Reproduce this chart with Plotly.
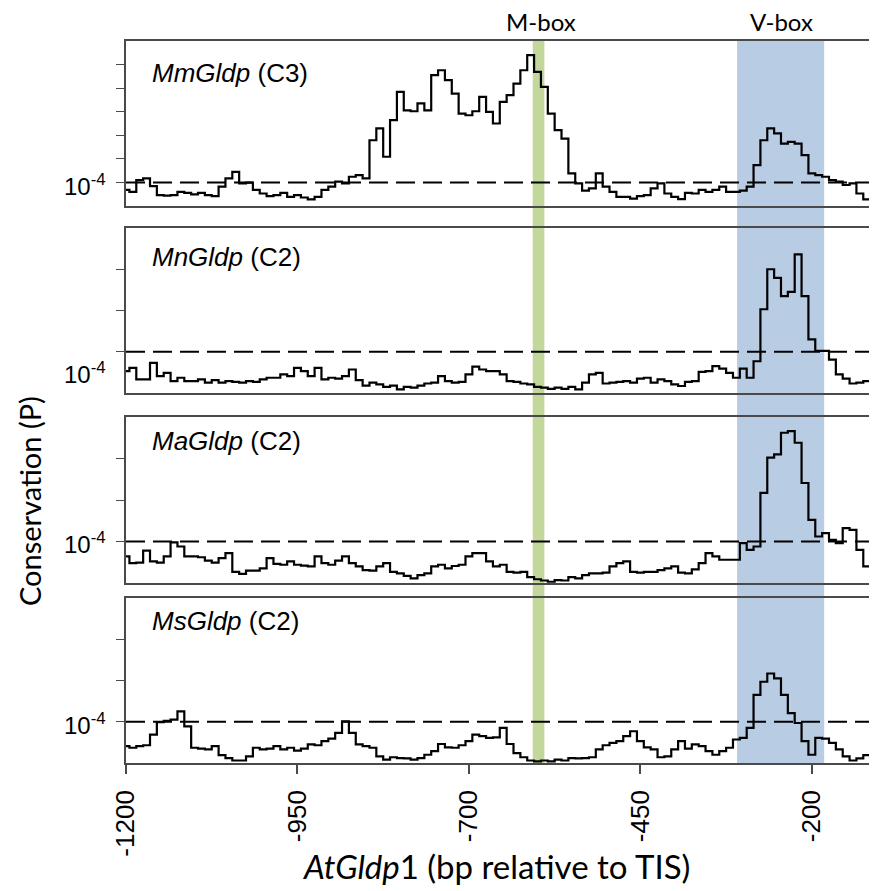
import plotly.graph_objects as go

# positions along AtGldp1 promoter (bp relative to TIS), 10-bp windows
positions = list(range(-1200, -99, 10))

# log10 of conservation P-value
mm_log10p = [
    -4.32, -4.40, -3.90, -3.83, -4.16, -4.54, -4.56, -4.54, -4.40, -4.44,
    -4.51, -4.44, -4.54, -4.58, -4.18, -3.83, -3.55, -4.04, -4.01, -4.32,
    -4.47, -4.58, -4.54, -4.44, -4.61, -4.54, -4.64, -4.72, -4.61, -4.32,
    -4.18, -3.97, -4.04, -3.76, -3.69, -3.83, -2.21, -1.71, -2.91, -1.36,
    -0.16, -0.94, -0.98, -0.65, -0.94, 0.55, 0.76, 0.34, -0.23, -1.08,
    -1.15, -0.98, -0.37, -1.01, -1.50, -0.58, -0.30, 0.19, 0.76, 1.40,
    0.69, 0.05, -1.08, -1.78, -2.14, -3.62, -4.04, -4.35, -4.25, -3.62,
    -4.18, -4.40, -4.61, -4.61, -4.69, -4.58, -4.54, -4.25, -4.04, -4.47,
    -4.61, -4.71, -4.44, -4.47, -4.32, -4.40, -4.32, -4.18, -4.40, -4.40,
    -4.35, -4.18, -3.27, -2.21, -1.71, -1.92, -2.35, -2.28, -2.35, -2.84,
    -3.62, -3.69, -3.76, -3.90, -3.97, -4.11, -4.04, -4.47, -4.72, -4.64, -4.61,
]
mn_log10p = [
    -4.47, -4.39, -4.67, -4.67, -4.27, -4.59, -4.51, -4.71, -4.63, -4.71,
    -4.71, -4.67, -4.75, -4.69, -4.75, -4.71, -4.73, -4.75, -4.71, -4.73,
    -4.67, -4.63, -4.63, -4.55, -4.59, -4.39, -4.47, -4.59, -4.39, -4.67,
    -4.63, -4.65, -4.59, -4.43, -4.69, -4.82, -4.75, -4.79, -4.85, -4.82,
    -4.91, -4.85, -4.87, -4.82, -4.77, -4.75, -4.59, -4.71, -4.75, -4.73,
    -4.55, -4.36, -4.43, -4.47, -4.47, -4.55, -4.71, -4.73, -4.77, -4.79,
    -4.85, -4.87, -4.90, -4.87, -4.90, -4.85, -4.91, -4.75, -4.55, -4.51,
    -4.77, -4.75, -4.73, -4.71, -4.75, -4.65, -4.63, -4.75, -4.67, -4.71,
    -4.79, -4.83, -4.73, -4.71, -4.49, -4.47, -4.35, -4.41, -4.51, -4.63,
    -4.41, -4.63, -4.23, -2.97, -2.00, -2.21, -2.65, -2.55, -1.64, -2.65,
    -3.70, -3.98, -3.98, -4.19, -4.55, -4.65, -4.77, -4.75, -4.71, -4.65, -4.63,
]
ma_log10p = [
    -4.36, -4.52, -4.51, -4.22, -4.48, -4.51, -4.36, -4.02, -4.12, -4.36,
    -4.36, -4.38, -4.46, -4.51, -4.40, -4.28, -4.73, -4.78, -4.70, -4.70,
    -4.65, -4.40, -4.54, -4.56, -4.48, -4.56, -4.58, -4.60, -4.36, -4.52,
    -4.56, -4.46, -4.36, -4.52, -4.60, -4.69, -4.70, -4.60, -4.52, -4.73,
    -4.77, -4.83, -4.89, -4.81, -4.77, -4.60, -4.56, -4.65, -4.59, -4.56,
    -4.36, -4.28, -4.28, -4.48, -4.60, -4.56, -4.73, -4.75, -4.73, -4.86,
    -4.91, -4.94, -4.97, -4.93, -4.94, -4.86, -4.89, -4.81, -4.77, -4.77,
    -4.75, -4.60, -4.52, -4.48, -4.73, -4.75, -4.73, -4.73, -4.69, -4.65,
    -4.60, -4.75, -4.77, -4.67, -4.52, -4.28, -4.36, -4.44, -4.44, -4.44,
    -4.04, -4.20, -4.12, -2.83, -1.98, -1.90, -1.38, -1.34, -1.62, -2.59,
    -3.48, -3.88, -3.80, -3.96, -4.04, -3.68, -3.72, -4.20, -4.60, -4.69, -4.56,
]
ms_log10p = [
    -4.59, -4.63, -4.59, -4.57, -4.31, -4.01, -3.98, -3.95, -3.75, -4.11,
    -4.63, -4.65, -4.67, -4.59, -4.81, -4.88, -4.94, -4.94, -4.84, -4.63,
    -4.67, -4.65, -4.59, -4.67, -4.63, -4.70, -4.65, -4.55, -4.57, -4.47,
    -4.41, -4.27, -3.99, -4.27, -4.55, -4.59, -4.63, -4.84, -4.92, -4.86,
    -4.88, -4.89, -4.92, -4.88, -4.80, -4.71, -4.54, -4.62, -4.63, -4.57,
    -4.47, -4.31, -4.35, -4.39, -4.38, -4.15, -4.54, -4.76, -4.86, -4.94,
    -4.96, -4.94, -4.96, -4.92, -4.94, -4.88, -4.89, -4.88, -4.86, -4.67,
    -4.57, -4.51, -4.47, -4.35, -4.23, -4.47, -4.62, -4.67, -4.86, -4.84,
    -4.67, -4.47, -4.65, -4.55, -4.59, -4.71, -4.80, -4.71, -4.63, -4.43,
    -4.39, -4.15, -3.35, -3.03, -2.83, -2.95, -3.35, -3.79, -4.03, -4.47,
    -4.80, -4.39, -4.41, -4.51, -4.67, -4.84, -4.94, -4.89, -4.81, -4.76, -4.71,
]

species = ["MmGldp", "MnGldp", "MaGldp", "MsGldp"]
pathway = ["C3", "C2", "C2", "C2"]
series = [mm_log10p, mn_log10p, ma_log10p, ms_log10p]
threshold = 1e-4
m_box = (-607, -590)
v_box = (-309, -182)
x_ticks = [-1200, -950, -700, -450, -200]
x_ticktext = ["-1200", "-950", "-700", "-450", "-200"]

OFF = 8  # default page body margin
W, H = 877 - OFF, 891 - OFF
ML, MR, MT = 126 - OFF, 0, 41 - OFF
MB = H - (763 - OFF)
plot_h = H - MT - MB
def py(px):  # page pixel row -> paper y
    return (H - MB - (px - OFF)) / plot_h
def pxp(px):  # page pixel col -> paper x
    return (px - OFF - ML) / (W - ML - MR)

panel_px = [(41, 206), (228, 393), (417, 583), (598, 763)]
y_ranges = [[-5, 2], [-5, -1], [-5, -1], [-5, -1]]
y_tickvals = [[1e-4, 1e-3, 1e-2, 1e-1, 1, 10], [1e-4, 1e-3, 1e-2], [1e-4, 1e-3, 1e-2], [1e-4, 1e-3, 1e-2]]
name_ypx = [73, 257.5, 441, 621]
lab_ypx = [184.5, 372.5, 543, 724]

line_col = "#4a4a4a"
fig = go.Figure()
layout = {}
for i in range(4):
    n = i + 1
    xa = "x" if n == 1 else f"x{n}"
    ya = "y" if n == 1 else f"y{n}"
    fig.add_trace(go.Scatter(x=positions, y=[10 ** v for v in series[i]], mode="lines",
                             line=dict(color="black", width=2.2, shape="hvh"), xaxis=xa, yaxis=ya,
                             showlegend=False, hoverinfo="skip"))
    fig.add_trace(go.Scatter(x=[positions[0], positions[-1]], y=[threshold, threshold], mode="lines",
                             line=dict(color="black", width=2, dash="19px,8px"), xaxis=xa, yaxis=ya,
                             showlegend=False, hoverinfo="skip"))
    top, bot = panel_px[i]
    xkey = "xaxis" if n == 1 else f"xaxis{n}"
    ykey = "yaxis" if n == 1 else f"yaxis{n}"
    layout[xkey] = dict(domain=[0, 1], anchor=ya, range=[-1200, -105], showline=True, mirror=True,
                        linecolor=line_col, linewidth=1.5, showgrid=False, zeroline=False,
                        tickvals=x_ticks, ticktext=x_ticktext,
                        ticks="outside" if n == 4 else "", ticklen=9,
                        tickcolor=line_col, tickwidth=1.5, showticklabels=(n == 4),
                        tickangle=-90, ticklabelstandoff=6,
                        tickfont=dict(family="Liberation Sans", size=26, color="black"))
    if n != 4:
        layout[xkey]["matches"] = "x4"
    layout[ykey] = dict(domain=[py(bot), py(top)], anchor=xa, type="log", range=y_ranges[i],
                        showline=True, linecolor=line_col, linewidth=1.5, showgrid=False,
                        zeroline=False, tickvals=y_tickvals[i], ticks="outside", ticklen=8,
                        tickcolor=line_col, tickwidth=1.3, showticklabels=False)

annotations = []
for i in range(4):
    annotations.append(dict(text=f"<i>{species[i]}</i> ({pathway[i]})", xref="paper", yref="paper",
                            x=pxp(150), y=py(name_ypx[i]), xanchor="left", yanchor="middle",
                            showarrow=False, font=dict(family="Liberation Sans", size=26, color="black")))
    annotations.append(dict(text="10<sup>-4</sup>", xref="paper", yref="paper",
                            x=pxp(108), y=py(lab_ypx[i]), xanchor="right", yanchor="middle",
                            showarrow=False, font=dict(family="Liberation Sans", size=24, color="black")))
annotations.append(dict(text="M-box", xref="x4", yref="paper", x=sum(m_box) / 2 + 3, y=py(21.5),
                        xanchor="center", yanchor="middle", showarrow=False,
                        font=dict(family="Lato", size=24, color="black")))
annotations.append(dict(text="V-box", xref="x4", yref="paper", x=sum(v_box) / 2 + 1, y=py(21.5),
                        xanchor="center", yanchor="middle", showarrow=False,
                        font=dict(family="Lato", size=24, color="black")))
annotations.append(dict(text="<i>AtGldp</i>1 (bp relative to TIS)", xref="paper", yref="paper",
                        x=pxp(496), y=py(866), xanchor="center", yanchor="middle", showarrow=False,
                        font=dict(family="Lato", size=33, color="black")))
annotations.append(dict(text="Conservation (P)", xref="paper", yref="paper",
                        x=pxp(29), y=py(501), xanchor="center", yanchor="middle", textangle=-90,
                        showarrow=False, font=dict(family="Lato", size=29, color="black")))

shapes = [
    dict(type="rect", xref="x4", yref="paper", x0=m_box[0], x1=m_box[1], y0=0, y1=1,
         fillcolor="#C4D79B", line=dict(width=0), layer="below"),
    dict(type="rect", xref="x4", yref="paper", x0=v_box[0], x1=v_box[1], y0=0, y1=1,
         fillcolor="#B8CCE4", line=dict(width=0), layer="below"),
]

fig.update_layout(width=W, height=H, margin=dict(l=ML, r=MR, t=MT, b=MB),
                  paper_bgcolor="white", plot_bgcolor="rgba(0,0,0,0)",
                  annotations=annotations, shapes=shapes, showlegend=False, **layout)
fig.write_html("out.html")
